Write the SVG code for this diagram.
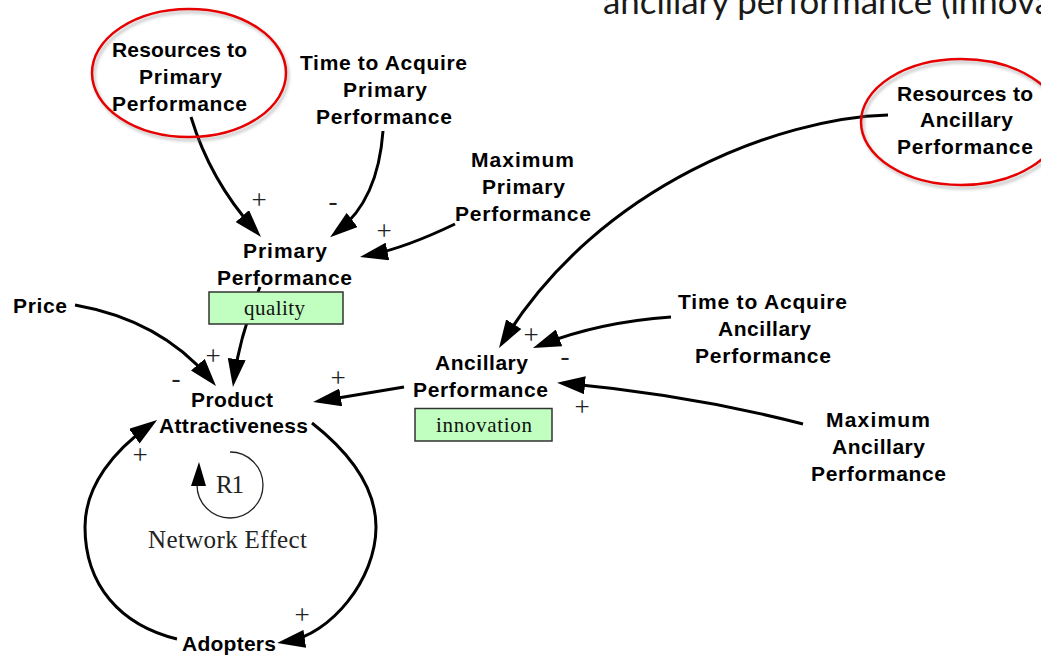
<svg xmlns="http://www.w3.org/2000/svg" width="1041" height="655" viewBox="0 0 1041 655">
  <style>
    .lbl { font-family: "Liberation Sans", Arial, sans-serif; font-weight: bold; font-size: 21px; fill: #000; }
    .tag { font-family: "Liberation Serif", "Times New Roman", serif; font-size: 21px; fill: #111; }
    .pol { font-family: "Liberation Serif", "Times New Roman", serif; font-size: 27px; fill: #222; text-anchor: middle; }
    .loop { font-family: "Liberation Serif", "Times New Roman", serif; font-size: 25px; fill: #222; }
    .link { fill: none; stroke: #000; stroke-width: 3; marker-end: url(#head); }
    .box { fill: #c0ffc0; stroke: #333; stroke-width: 1.5; }
    .ring { fill: none; stroke: #e60000; stroke-width: 2.5; }
    .ringshade { fill: none; stroke: #888; stroke-width: 3; opacity: 0.45; filter: url(#soft); }
  </style>
  <defs>
    <marker id="head" markerUnits="userSpaceOnUse" viewBox="0 0 28 18" markerWidth="28" markerHeight="18" refX="18" refY="9" orient="auto">
      <path d="M0,0 L28,9 L0,18 z" fill="#000"/>
    </marker>
    <filter id="soft" x="-20%" y="-20%" width="140%" height="140%">
      <feGaussianBlur stdDeviation="1.6"/>
    </filter>
  </defs>

  <rect width="1041" height="655" fill="#fff"/>

  <!-- heading line running off the top of the slide -->
  <text x="603" y="14" font-family="Lato, 'Open Sans', sans-serif" font-size="34" fill="#1a1a1a" textLength="449" lengthAdjust="spacingAndGlyphs">ancillary performance (innova</text>

  <!-- connectors -->
  <g id="connectors">
    <path class="link" d="M191,117 Q210,180 254.3,229.5"/>
    <path class="link" d="M383,131 Q378,200 338,231"/>
    <path class="link" d="M455,224 Q405,248 369.8,255"/>
    <path class="link" d="M260,287 Q240,335 234.3,377"/>
    <path class="link" d="M75,305 Q160,320 209.5,378.4"/>
    <path class="link" d="M404,387 L323,400.4"/>
    <path class="link" d="M312,423 C340,445 376,480 376,527 C376,580 330,635 287,641.5"/>
    <path class="link" d="M177,639 C120,625 85,585 85,527 C85,485 115,450 149,425.8"/>
    <path class="link" d="M888,115 C780,118 600,185 504.3,339.5"/>
    <path class="link" d="M671,317 Q600,322 542.3,344.4"/>
    <path class="link" d="M803,424 Q690,395 567,383.6"/>
  </g>

  <!-- polarity signs -->
  <g id="polarities">
    <text class="pol" x="259" y="209">+</text>
    <text class="pol" x="333" y="210">-</text>
    <text class="pol" x="384" y="240">+</text>
    <text class="pol" x="213" y="365">+</text>
    <text class="pol" x="176" y="387">-</text>
    <text class="pol" x="338" y="387">+</text>
    <text class="pol" x="531" y="344">+</text>
    <text class="pol" x="565" y="365">-</text>
    <text class="pol" x="582" y="416">+</text>
    <text class="pol" x="302" y="624">+</text>
    <text class="pol" x="140" y="464">+</text>
  </g>

  <g id="resources-primary">
    <ellipse class="ringshade" cx="191" cy="76" rx="97" ry="64"/>
    <ellipse class="ring" cx="189" cy="73" rx="97" ry="64"/>
    <text class="lbl" x="112" y="57" textLength="135">Resources to</text>
    <text class="lbl" x="139" y="84" textLength="83">Primary</text>
    <text class="lbl" x="112" y="111" textLength="135">Performance</text>
  </g>

  <g id="time-primary">
    <text class="lbl" x="300" y="70" textLength="167">Time to Acquire</text>
    <text class="lbl" x="343" y="97" textLength="84">Primary</text>
    <text class="lbl" x="316" y="124" textLength="136">Performance</text>
  </g>

  <g id="max-primary">
    <text class="lbl" x="471" y="167" textLength="103">Maximum</text>
    <text class="lbl" x="482" y="194" textLength="83">Primary</text>
    <text class="lbl" x="455" y="221" textLength="136">Performance</text>
  </g>

  <g id="primary-performance">
    <text class="lbl" x="243" y="258" textLength="84">Primary</text>
    <text class="lbl" x="217" y="285" textLength="135">Performance</text>
    <rect class="box" x="209" y="292" width="134" height="32"/>
    <text class="tag" x="244" y="315" textLength="61">quality</text>
  </g>

  <g id="price">
    <text class="lbl" x="13" y="313" textLength="54">Price</text>
  </g>

  <g id="product-attractiveness">
    <text class="lbl" x="191" y="407" textLength="82">Product</text>
    <text class="lbl" x="159" y="433" textLength="149">Attractiveness</text>
  </g>

  <g id="adopters">
    <text class="lbl" x="182" y="651" textLength="94">Adopters</text>
  </g>

  <g id="loop-r1">
    <path d="M230,452 A33,33 0 1 1 197,485" fill="none" stroke="#222" stroke-width="1.3"/>
    <polygon points="199,462 191,486 206,486" fill="#000"/>
    <text class="loop" x="216" y="493" textLength="28">R1</text>
    <text class="loop" x="148" y="548" textLength="159">Network Effect</text>
  </g>

  <g id="ancillary-performance">
    <text class="lbl" x="435" y="370" textLength="93">Ancillary</text>
    <text class="lbl" x="413" y="397" textLength="135">Performance</text>
    <rect class="box" x="415" y="408.5" width="137" height="32.5"/>
    <text class="tag" x="436" y="432" textLength="96">innovation</text>
  </g>

  <g id="time-ancillary">
    <text class="lbl" x="678" y="309" textLength="169">Time to Acquire</text>
    <text class="lbl" x="718" y="336" textLength="93">Ancillary</text>
    <text class="lbl" x="695" y="363" textLength="136">Performance</text>
  </g>

  <g id="max-ancillary">
    <text class="lbl" x="826" y="427" textLength="104">Maximum</text>
    <text class="lbl" x="832" y="454" textLength="93">Ancillary</text>
    <text class="lbl" x="811" y="481" textLength="135">Performance</text>
  </g>

  <g id="resources-ancillary">
    <ellipse class="ringshade" cx="963" cy="125" rx="100" ry="63"/>
    <ellipse class="ring" cx="961" cy="122" rx="100" ry="63"/>
    <text class="lbl" x="897" y="100.5" textLength="136">Resources to</text>
    <text class="lbl" x="920" y="127" textLength="93">Ancillary</text>
    <text class="lbl" x="897" y="153.5" textLength="136">Performance</text>
  </g>
</svg>
